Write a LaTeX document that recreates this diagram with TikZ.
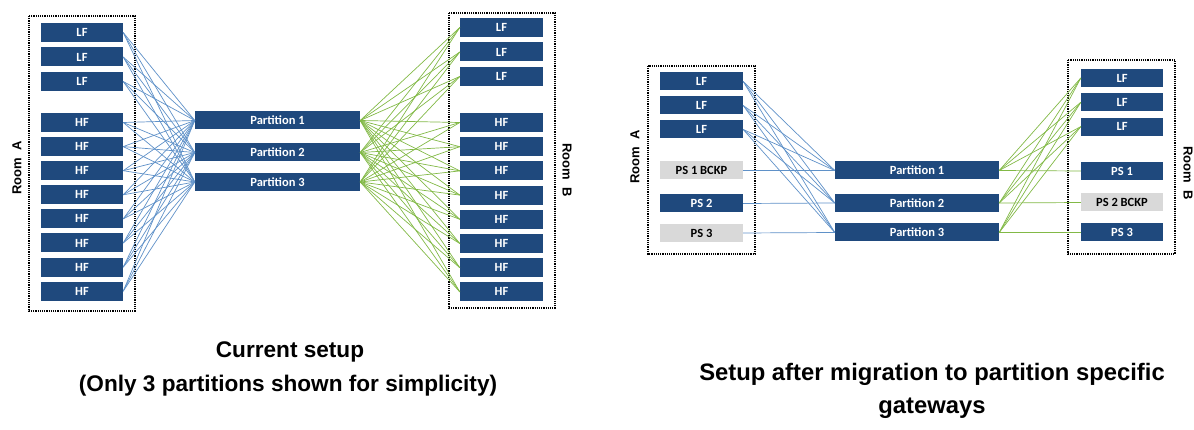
\documentclass[tikz,border=0pt]{standalone}
\usepackage{fontspec}
\setmainfont{Liberation Sans}
\newfontfamily\boxfont{Carlito}
\usepackage{tikz}
\usetikzlibrary{positioning}
\definecolor{nav}{RGB}{31,73,125}
\definecolor{gry}{RGB}{217,217,217}
\definecolor{lnb}{RGB}{95,145,200}
\definecolor{lng}{RGB}{130,185,70}
\tikzset{
  srv/.style={rectangle,fill=nav,text=white,minimum width=82pt,minimum height=19pt,inner sep=0pt,font=\boxfont\bfseries\fontsize{12.5}{13}\selectfont},
  srvbk/.style={srv,fill=gry,text=black},
  part/.style={srv,minimum width=165pt,minimum height=18pt},
  room/.style={draw=black,very thick,densely dotted},
  roomlbl/.style={font=\bfseries\fontsize{13}{14}\selectfont},
  wireA/.style={draw=lnb,line width=0.7pt},  % blue side
  wireB/.style={draw=lng,line width=0.7pt},  % green side
  caption/.style={font=\bfseries\fontsize{23.8}{26}\selectfont},
}
\begin{document}
\begin{tikzpicture}[x=1pt,y=-1pt]
\useasboundingbox (0,0) rectangle (1194,430);
% ---- current setup ----
\draw[room] (29,16) rectangle (135,311);
\draw[room] (449,13) rectangle (555,308);
\node[roomlbl,rotate=90] (rA1) at (17,168) {Room\ \ A};
\node[roomlbl,rotate=-90] (rB1) at (567,170) {Room\ \ B};
\foreach \i in {1,2,3}{
  \node[srv] (a\i) at (82,{32.5+24.5*(\i-1)}) {LF};
  \node[srv,minimum width=83pt] (b\i) at (501.5,{27.5+24.5*(\i-1)}) {LF};
}
\foreach \i in {4,...,11}{
  \node[srv] (a\i) at (82,{122.5+24.1*(\i-4)}) {HF};
  \node[srv,minimum width=83pt] (b\i) at (501.5,{122.5+24.2*(\i-4)}) {HF};
}
\node[part] (p1) at (277.5,120.5) {Partition 1};
\node[part] (p2) at (277.5,152.5) {Partition 2};
\node[part] (p3) at (277.5,182) {Partition 3};
% full mesh on both sides
\foreach \i in {1,...,11}{
  \foreach \j in {1,2,3}{
    \draw[wireA] (a\i.east) -- (p\j.west);
    \draw[wireB] (p\j.east) -- (b\i.west);
  }
}
\node[caption,font=\bfseries\fontsize{22.6}{26}\selectfont] (cap1) at (290,352) {Current setup};
\node[caption,font=\bfseries\fontsize{22.6}{26}\selectfont] (cap2) at (288,386) {(Only 3 partitions shown for simplicity)};
% ---- after migration ----
\draw[room] (648,66) rectangle (755,254);
\draw[room] (1068,60) rectangle (1175,254);
\node[roomlbl,rotate=90] (rA2) at (635,157) {Room\ \ A};
\node[roomlbl,rotate=-90] (rB2) at (1188,173) {Room\ \ B};
\foreach \i in {1,2,3}{
  \node[srv,minimum width=83pt,minimum height=18pt] (c\i) at (701.5,{81.5+24*(\i-1)}) {LF};
  \node[srv,minimum height=18pt] (d\i) at (1122,{78+24.3*(\i-1)}) {LF};
}
\node[srvbk,minimum width=83pt,minimum height=18pt] (c4) at (701.5,170.5) {PS 1 BCKP};
\node[srv,minimum width=83pt,minimum height=18pt] (c5) at (701.5,203.5) {PS 2};
\node[srvbk,minimum width=83pt,minimum height=18pt] (c6) at (701.5,233) {PS 3};
\node[srv,minimum height=18pt] (d4) at (1122,171) {PS 1};
\node[srvbk,minimum height=18pt] (d5) at (1122,202.5) {PS 2 BCKP};
\node[srv,minimum height=18pt] (d6) at (1122,232.5) {PS 3};
\node[part,minimum width=164pt] (q1) at (917,170.5) {Partition 1};
\node[part,minimum width=164pt] (q2) at (917,203) {Partition 2};
\node[part,minimum width=164pt] (q3) at (917,232.5) {Partition 3};
\foreach \i in {1,2,3}{
  \foreach \j in {1,2,3}{
    \draw[wireA] (c\i.east) -- (q\j.west);
    \draw[wireB] (q\j.east) -- (d\i.west);
  }
}
\draw[wireA] (c4.east) -- (q1.west);
\draw[wireA] (c5.east) -- (q2.west);
\draw[wireA] (c6.east) -- (q3.west);
\draw[wireB] (q1.east) -- (d4.west);
\draw[wireB] (q2.east) -- (d5.west);
\draw[wireB] (q3.east) -- (d6.west);
\node[caption] (cap3) at (932,374) {Setup after migration to partition specific};
\node[caption] (cap4) at (932,408) {gateways};
\end{tikzpicture}
\end{document}
